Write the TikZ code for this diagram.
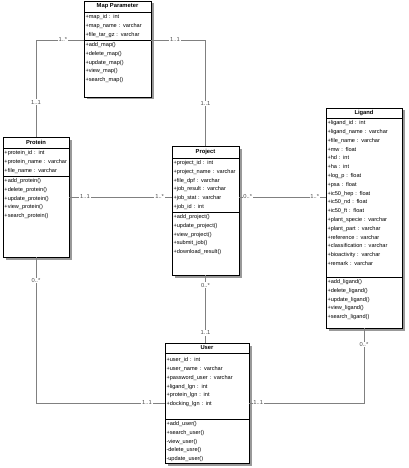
\documentclass[tikz,border=0pt]{standalone}
\usepackage{fontspec}
\setmainfont{Liberation Sans}
\usepackage{tikz}
\usetikzlibrary{positioning, shadows}

\begin{document}
\begin{tikzpicture}[
      x=1pt, y=-1pt,
      every node/.style={font=\fontsize{5.6}{8.8}\selectfont},
      classbox/.style={draw, line width=0.9pt, fill=white, outer sep=0pt, anchor=north west,
        drop shadow={shadow xshift=2.5pt, shadow yshift=-2.5pt, fill=black!40, opacity=1}},
      clsname/.style={font=\bfseries\fontsize{5.8}{7}\selectfont, inner sep=0pt, outer sep=0pt, anchor=north},
      attrs/.style={draw, line width=0.7pt, outer sep=0pt, align=left, inner xsep=1.5pt, inner ysep=0pt},
      ops/.style={outer sep=0pt, align=left, inner xsep=1.5pt, inner ysep=2.5pt},
      assoc/.style={draw=black!50, line width=0.6pt},
      mult/.style={fill=white, text=black!70, font=\fontsize{5.8}{6}\selectfont, inner sep=0.8pt},
    ]
    \useasboundingbox (0,0) rectangle (408,468);

    % Map Parameter
    \node[classbox, minimum width=67, minimum height=96] (map) at (84,1) {};
    \node[clsname, minimum height=11] (mapname) at (map.north) {Map Parameter};
    \node[attrs, text width=64pt, minimum height=28, below=0pt of mapname] (mapattr)
      {+map\_id : int\\+map\_name : varchar\\+file\_tar\_gz : varchar};
    \node[ops, text width=64pt, below=0pt of mapattr] (mapops)
      {+add\_map()\\+delete\_map()\\+update\_map()\\+view\_map()\\+search\_map()};

    % Protein
    \node[classbox, minimum width=66, minimum height=120] (protein) at (3,137) {};
    \node[clsname, minimum height=11] (proteinname) at (protein.north) {Protein};
    \node[attrs, text width=63pt, minimum height=28, below=0pt of proteinname] (proteinattr)
      {+protein\_id : int\\+protein\_name : varchar\\+file\_name : varchar};
    \node[ops, text width=63pt, below=0pt of proteinattr] (proteinops)
      {+add\_protein()\\+delete\_protein()\\+update\_protein()\\+view\_protein()\\+search\_protein()};

    % Project
    \node[classbox, minimum width=67, minimum height=129] (project) at (172,146) {};
    \node[clsname, minimum height=12] (projectname) at (project.north) {Project};
    \node[attrs, text width=64pt, minimum height=54, below=0pt of projectname] (projectattr)
      {+project\_id : int\\+project\_name : varchar\\+file\_dpf : varchar\\+job\_result : varchar\\+job\_stat : varchar\\+job\_id : int};
    \node[ops, text width=64pt, below=0pt of projectattr] (projectops)
      {+add\_project()\\+update\_project()\\+view\_project()\\+submit\_job()\\+download\_result()};

    % Ligand
    \node[classbox, minimum width=76, minimum height=220] (ligand) at (326,108) {};
    \node[clsname, minimum height=10] (ligandname) at (ligand.north) {Ligand};
    \node[attrs, text width=73pt, minimum height=159, below=0pt of ligandname] (ligandattr)
      {+ligand\_id : int\\+ligand\_name : varchar\\+file\_name : varchar\\+mw : float\\+hd : int\\+ha : int\\+log\_p : float\\+psa : float\\+ic50\_hep : float\\+ic50\_nd : float\\+ic50\_ft : float\\+plant\_specie : varchar\\+plant\_part : varchar\\+reference : varchar\\+classification : varchar\\+bioactivity : varchar\\+remark : varchar\\\mbox{}};
    \node[ops, text width=73pt, below=0pt of ligandattr] (ligandops)
      {+add\_ligand()\\+delete\_ligand()\\+update\_ligand()\\+view\_ligand()\\+search\_ligand()};

    % User
    \node[classbox, minimum width=84, minimum height=120] (user) at (165,343) {};
    \node[clsname, minimum height=10] (username) at (user.north) {User};
    \node[attrs, text width=81pt, minimum height=66, below=0pt of username] (userattr)
      {+user\_id : int\\+user\_name : varchar\\+password\_user : varchar\\+ligand\_lgn : int\\+protein\_lgn : int\\+docking\_lgn : int\\\mbox{}};
    \node[ops, text width=81pt, below=0pt of userattr] (userops)
      {+add\_user()\\+search\_user()\\-view\_user()\\-delete\_usre()\\-update\_user()};

    % Associations
    \draw[assoc] (mapattr.south west) -| (protein.north)
      node[mult, pos=0.22] {1..*} node[mult, pos=0.82] {1..1};
    \draw[assoc] (mapattr.south east) -| (project.north)
      node[mult, pos=0.22] {1..1} node[mult, pos=0.8] {1..1};
    \draw[assoc] (protein.east) -- (protein.east -| project.west)
      node[mult, pos=0.155] {1..1} node[mult, pos=0.88] {1..*};
    \draw[assoc] (protein.east -| project.east) -- (protein.east -| ligand.west)
      node[mult, pos=0.1] {0..*} node[mult, pos=0.87] {1..*};
    \draw[assoc] (project.south) -- (project.south |- user.north)
      node[mult, pos=0.15] {0..*} node[mult, pos=0.85] {1..1};
    \draw[assoc] (protein.south) |- (user.west)
      node[mult, pos=0.08] {0..*} node[mult, pos=0.93] {1..1};
    \draw[assoc] (ligand.south) |- (user.east)
      node[mult, pos=0.11] {0..*} node[mult, pos=0.96] {1..1};
  \end{tikzpicture}
\end{document}
